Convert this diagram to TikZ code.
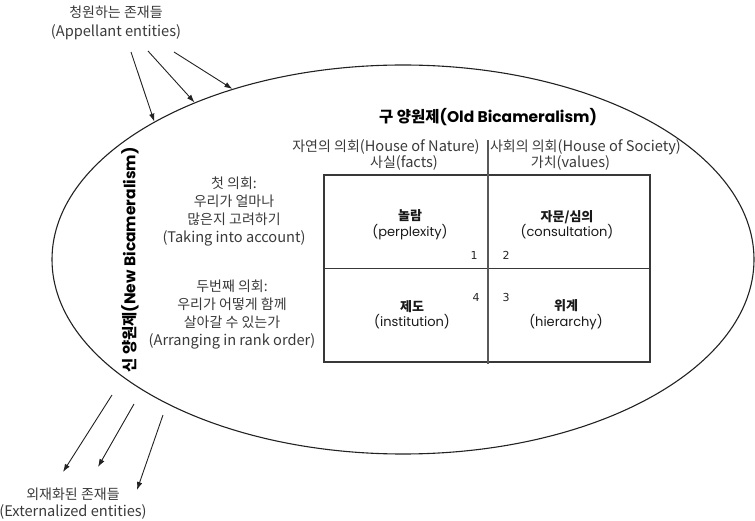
\documentclass[tikz,border=0pt]{standalone}
\usepackage{fontspec}
\setmainfont{Noto Sans CJK KR}
\newfontfamily\pop{Poppins}
\newfontfamily\lat{DejaVu Sans}
\newcommand{\la}[1]{{\fontsize{14.6}{17.7}\selectfont #1}}
\usetikzlibrary{shapes.geometric,arrows.meta}
\definecolor{txt}{HTML}{3a3a3a}
\definecolor{ln}{HTML}{222222}
\begin{document}
\begin{tikzpicture}[x=1pt,y=-1pt,
  note/.style={text=txt, font=\fontsize{14}{17.7}\selectfont, align=center, inner sep=0pt},
  cell/.style={text=black!90, font=\fontsize{13}{15.5}\selectfont, align=center, inner sep=0pt},
  num/.style={text=black!85, font=\lat\fontsize{11}{12}\selectfont, inner sep=0pt},
  arr/.style={-{Latex[length=8pt,width=5.5pt]}, line width=0.9pt, draw=ln},
  big/.style={text=black, font=\fontsize{15.5}{17}\selectfont\bfseries, inner sep=0pt}]
\useasboundingbox (0,0) rectangle (755,521);
% big ellipse
\node[ellipse, draw=ln, line width=1.1pt, minimum width=702pt, minimum height=389pt, inner sep=0pt] (ell) at (403,259.5) {};
% top entities
\node[note, font=\fontsize{14}{19}\selectfont] (appel) at (116,22.5) {청원하는 존재들\\\la{(Appellant entities)}};
\coordinate (a1) at (131,52);
\coordinate (a2) at (148,51);
\coordinate (a3) at (174,52);
\draw[arr] (a1) -- (ell.151.5);
\draw[arr] (a2) -- (ell.143);
\draw[arr] (a3) -- (ell.135);
% bottom entities
\node[note, font=\fontsize{14}{17}\selectfont] (extern) at (73,503.5) {외재화된 존재들\\\la{(Externalized entities)}};
\coordinate (b1s) at (112,395);
\coordinate (b1e) at (63,472);
\coordinate (b2s) at (134,404);
\coordinate (b2e) at (98,467);
\coordinate (b3s) at (163,415);
\coordinate (b3e) at (137,490);
\draw[arr] (b1s) -- (b1e);
\draw[arr] (b2s) -- (b2e);
\draw[arr] (b3s) -- (b3e);
% titles
\node[big] (old) at (488,117) {구 양원제{\pop (Old Bicameralism)}};
\node[big, rotate=90] (new) at (130,260) {신 양원제{\pop (New Bicameralism)}};
% column headers
\node[note] (nat) at (386,147) {자연의 의회\la{(House of Nature)}};
\node[note] (facts) at (404,163) {사실\la{(facts)}};
\node[note] (soc) at (585.5,147) {사회의 의회\la{(House of Society)}};
\node[note] (vals) at (570.5,163) {가치\la{(values)}};
% row headers
\node[note] (first) at (234,211.5) {첫 의회:\\우리가 얼마나\\많은지 고려하기\\\la{(Taking into account)}};
\node[note] (second) at (232,314.5) {두번째 의회:\\우리가 어떻게 함께\\살아갈 수 있는가\\\la{(Arranging in rank order)}};
% table
\node[draw=ln!90, line width=1.1pt, minimum width=326pt, minimum height=187pt, inner sep=0pt] (tbl) at (487,268.5) {};
\draw[ln!90, line width=1.1pt] (tbl.west) -- (tbl.east);
\coordinate (vtop) at (488,140);
\coordinate (vbot) at (488,364);
\draw[black!65, line width=1.6pt] (vtop) -- (vbot);
% cells
\node[cell] (c1) at (410,224.5) {\textbf{놀람}\\{\pop (perplexity)}};
\node[cell] (c2) at (567,224.5) {\textbf{자문/심의}\\{\pop (consultation)}};
\node[cell] (c4) at (412,314.5) {\textbf{제도}\\{\pop (institution)}};
\node[cell] (c3) at (566,314.5) {\textbf{위계}\\{\pop (hierarchy)}};
\node[num] (n1) at (474,255) {1};
\node[num] (n2) at (506,255) {2};
\node[num] (n4) at (476,297) {4};
\node[num] (n3) at (506,297) {3};
\end{tikzpicture}
\end{document}
